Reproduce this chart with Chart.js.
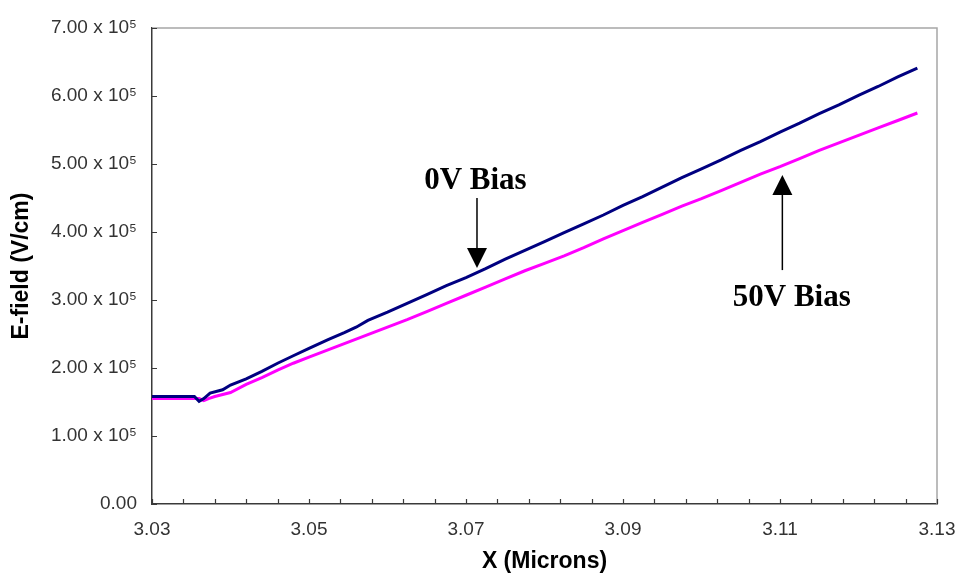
<!DOCTYPE html>
<html>
<head>
<meta charset="utf-8">
<script src="https://cdn.jsdelivr.net/npm/chart.js@4/dist/chart.umd.min.js"></script>
<style>
  html, body { margin: 0; padding: 0; background: #ffffff; }
  #wrap { width: 957px; height: 576px; position: relative; }
</style>
</head>
<body>
<div id="wrap"><canvas id="c"></canvas></div>
<script>
// ---- Data (x in microns, E-field in V/cm) ----
const bias0X = [3.0300, 3.0330, 3.0354, 3.0360, 3.0366, 3.0374, 3.0390, 3.0400, 3.0420, 3.0440,
  3.0460, 3.0480, 3.0500, 3.0525, 3.0545, 3.0560, 3.0575, 3.0600, 3.0625, 3.0650,
  3.0675, 3.0700, 3.0725, 3.0750, 3.0775, 3.0800, 3.0825, 3.0850, 3.0875, 3.0900,
  3.0925, 3.0950, 3.0975, 3.1000, 3.1025, 3.1050, 3.1075, 3.1100, 3.1125, 3.1150,
  3.1175, 3.1200, 3.1225, 3.1250, 3.1275];
const bias0Y = [158000, 158000, 158000, 151000, 155000, 163000, 168000, 175000, 184000, 195000,
  207000, 218000, 229000, 242000, 252000, 260000, 270000, 282000, 295000, 308000,
  321000, 333000, 346000, 360000, 373000, 386000, 399000, 412000, 425000, 439000,
  452000, 466000, 480000, 493000, 506000, 520000, 533000, 547000, 560000, 574000,
  587000, 601000, 614000, 628000, 641000];

const bias50X = [3.0300, 3.0360, 3.0366, 3.0372, 3.0380, 3.0400, 3.0420, 3.0440, 3.0460, 3.0480,
  3.0500, 3.0525, 3.0550, 3.0575, 3.0600, 3.0625, 3.0650, 3.0675, 3.0700, 3.0725,
  3.0750, 3.0775, 3.0800, 3.0825, 3.0850, 3.0875, 3.0900, 3.0925, 3.0950, 3.0975,
  3.1000, 3.1025, 3.1050, 3.1075, 3.1100, 3.1125, 3.1150, 3.1175, 3.1200, 3.1225,
  3.1250, 3.1275];
const bias50Y = [155000, 155000, 152000, 155000, 158000, 164000, 176000, 186000, 197000, 207000,
  216000, 227000, 238000, 249000, 260000, 271000, 283000, 295000, 307000, 319000,
  331000, 343000, 354000, 365000, 377000, 390000, 402000, 414000, 426000, 438000,
  449000, 461000, 473000, 485000, 496000, 508000, 520000, 531000, 542000, 553000,
  564000, 575000];

const seriesNames = ['0V Bias', '50V Bias'];
const xTickLabels = ['3.03', '3.05', '3.07', '3.09', '3.11', '3.13'];
const yTickLabels = ['0.00', '1.00 x 10\u2075', '2.00 x 10\u2075', '3.00 x 10\u2075', '4.00 x 10\u2075',
  '5.00 x 10\u2075', '6.00 x 10\u2075', '7.00 x 10\u2075'];

// annotation labels with arrows (data coordinates)
const annotations = [
  { text: '0V Bias', textX: 3.0712, textY: 475000, arrowX: 3.0714, fromY: 450000, toY: 347000 },
  { text: '50V Bias', textX: 3.1115, textY: 303000, arrowX: 3.1103, fromY: 344000, toY: 484000 }
];

const toPoints = (xs, ys) => xs.map((x, i) => ({ x: x, y: ys[i] }));

const frameAndTicks = {
  id: 'frameAndTicks',
  beforeDatasetsDraw(chart) {
    const { ctx, chartArea: { left, right, top, bottom }, scales: { x, y } } = chart;
    ctx.save();
    ctx.strokeStyle = '#a6a6a6';
    ctx.lineWidth = 1.5;
    ctx.beginPath();
    ctx.moveTo(left, top);
    ctx.lineTo(right, top);
    ctx.lineTo(right, bottom);
    ctx.stroke();
    ctx.strokeStyle = '#3a3a3a';
    ctx.lineWidth = 1.2;
    ctx.beginPath();
    x.ticks.forEach(t => {
      const px = Math.round(x.getPixelForValue(t.value)) + 0.5;
      ctx.moveTo(px, bottom);
      ctx.lineTo(px, bottom - 5);
    });
    y.ticks.forEach(t => {
      const py = Math.round(y.getPixelForValue(t.value)) + 0.5;
      ctx.moveTo(left, py);
      ctx.lineTo(left + 5, py);
    });
    ctx.stroke();
    ctx.restore();
  },
  afterDatasetsDraw(chart) {
    const { ctx, scales: { x, y } } = chart;
    ctx.save();
    annotations.forEach(a => {
      const ax = x.getPixelForValue(a.arrowX);
      const y0 = y.getPixelForValue(a.fromY);
      const y1 = y.getPixelForValue(a.toY);
      const dir = y1 > y0 ? 1 : -1;
      const headLen = 20, headW = 10;
      ctx.strokeStyle = '#000';
      ctx.lineWidth = 1.5;
      ctx.beginPath();
      ctx.moveTo(ax, y0);
      ctx.lineTo(ax, y1 - dir * headLen);
      ctx.stroke();
      ctx.fillStyle = '#000';
      ctx.beginPath();
      ctx.moveTo(ax, y1);
      ctx.lineTo(ax - headW, y1 - dir * headLen);
      ctx.lineTo(ax + headW, y1 - dir * headLen);
      ctx.closePath();
      ctx.fill();
      ctx.font = 'bold 31px "Liberation Serif", "Times New Roman", serif';
      ctx.textAlign = 'center';
      ctx.textBaseline = 'middle';
      ctx.fillText(a.text, x.getPixelForValue(a.textX), y.getPixelForValue(a.textY));
    });
    ctx.restore();
  }
};

new Chart(document.getElementById('c'), {
  type: 'scatter',
  data: {
    datasets: [
      { label: seriesNames[0], data: toPoints(bias0X, bias0Y), showLine: true, borderColor: '#000080',
        backgroundColor: '#000080', borderWidth: 3, pointRadius: 0, tension: 0 },
      { label: seriesNames[1], data: toPoints(bias50X, bias50Y), showLine: true, borderColor: '#ff00ff',
        backgroundColor: '#ff00ff', borderWidth: 3, pointRadius: 0, tension: 0 }
    ]
  },
  options: {
    responsive: true,
    maintainAspectRatio: false,
    animation: false,
    layout: { padding: { left: 0, top: 28, right: 20, bottom: 0 } },
    plugins: { legend: { display: false }, tooltip: { enabled: false } },
    scales: {
      x: {
        type: 'linear', min: 3.03, max: 3.13,
        afterBuildTicks(scale) {
          const t = [];
          for (let i = 0; i <= 25; i++) t.push({ value: 3.03 + i * 0.004 });
          scale.ticks = t;
        },
        afterFit(scale) { scale.height = 72; scale.paddingLeft = 0; scale.paddingRight = 0; },
        grid: { display: false, drawTicks: false },
        border: { display: true, color: '#3a3a3a', width: 1.5 },
        ticks: {
          autoSkip: false, maxRotation: 0, padding: 14, color: '#333',
          font: { family: '"Liberation Sans", Arial, sans-serif', size: 19 },
          callback: (v, i) => (i % 5 === 0 ? xTickLabels[i / 5] : '')
        },
        title: { display: true, text: 'X (Microns)', color: '#000',
          font: { family: '"Liberation Sans", Arial, sans-serif', size: 23, weight: 'bold' },
          padding: { top: 0, bottom: 1 } }
      },
      y: {
        type: 'linear', min: 0, max: 700000,
        afterFit(scale) { scale.width = 152; },
        grid: { display: false, drawTicks: false },
        border: { display: true, color: '#3a3a3a', width: 1.5 },
        ticks: {
          stepSize: 100000, padding: 15, color: '#333',
          font: { family: '"Liberation Sans", Arial, sans-serif', size: 19 },
          callback: (v, i) => yTickLabels[Math.round(v / 100000)]
        },
        title: { display: true, text: 'E-field (V/cm)', color: '#000',
          font: { family: '"Liberation Sans", Arial, sans-serif', size: 23, weight: 'bold' },
          padding: { top: 8, bottom: 0 } }
      }
    }
  },
  plugins: [frameAndTicks]
});
</script>
</body>
</html>
